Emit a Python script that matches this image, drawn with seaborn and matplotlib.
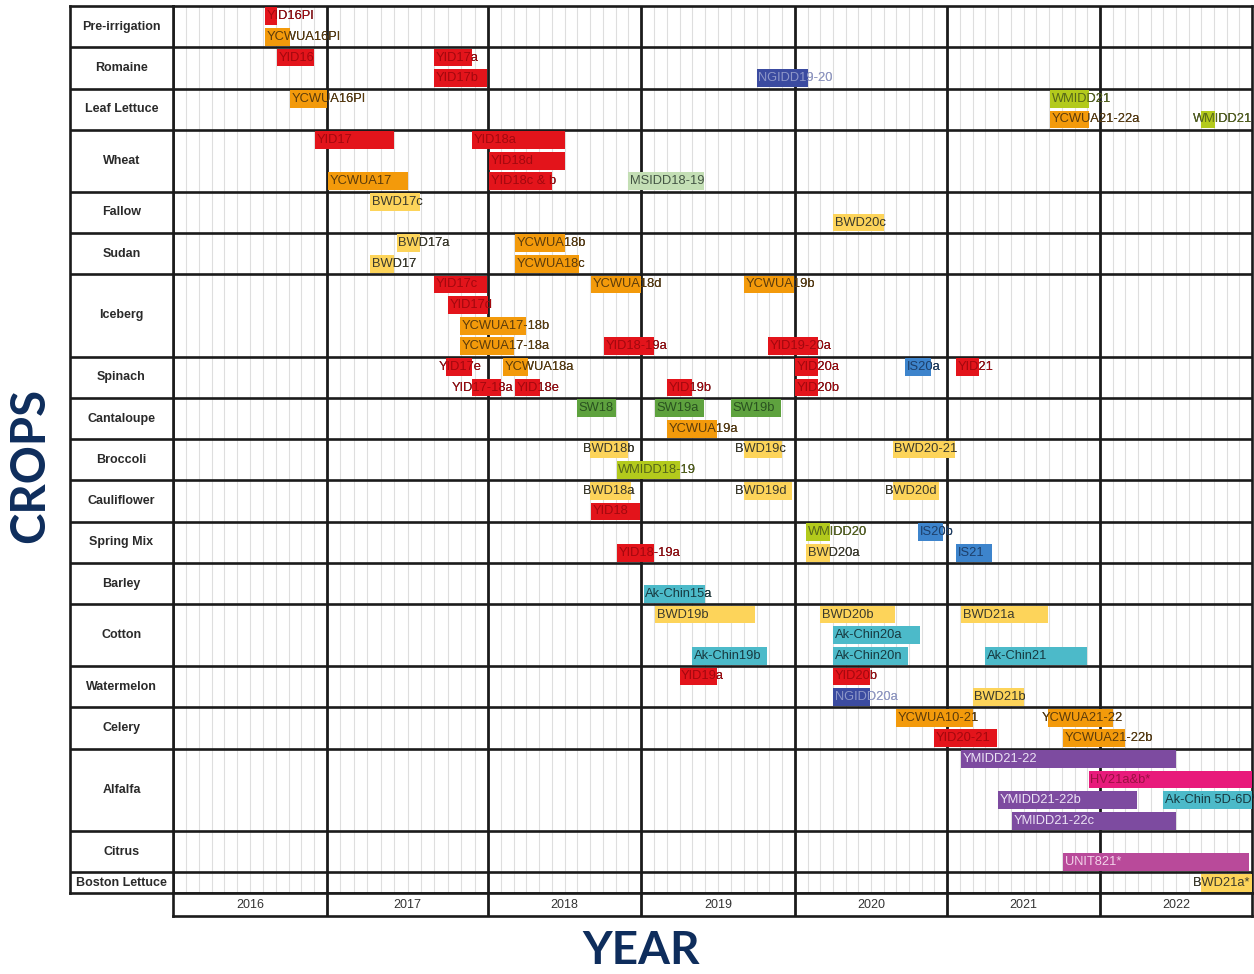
"""Crop trial timeline (2016-2022) drawn as a lane-based Gantt chart."""

import numpy as np
import matplotlib.pyplot as plt
import seaborn as sns

sns.set_theme(style="white")
plt.rcParams["font.family"] = ["Liberation Sans", "DejaVu Sans"]

# ---- data -------------------------------------------------------------
crops = ["Pre-irrigation", "Romaine", "Leaf Lettuce", "Wheat", "Fallow", "Sudan", "Iceberg",
         "Spinach", "Cantaloupe", "Broccoli", "Cauliflower", "Spring Mix", "Barley", "Cotton",
         "Watermelon", "Celery", "Alfalfa", "Citrus", "Boston Lettuce"]
crop_lanes = [2, 2, 2, 3, 2, 2, 4, 2, 2, 2, 2, 2, 2, 3, 2, 2, 4, 2, 1]
years = [2016, 2017, 2018, 2019, 2020, 2021, 2022]

# months counted from Jan 2016
trial_names = [
    "YID16PI", "YCWUA16PI",
    "YID16", "YID17a", "YID17b", "NGIDD19-20",
    "YCWUA16PI", "WMIDD21", "YCWUA21-22a", "WMIDD21",
    "YID17", "YID18a", "YID18d", "YCWUA17", "YID18c & b", "MSIDD18-19",
    "BWD17c", "BWD20c",
    "BWD17a", "BWD17", "YCWUA18b", "YCWUA18c",
    "YID17c", "YID17d", "YCWUA17-18b", "YCWUA17-18a", "YCWUA18d", "YCWUA19b", "YID18-19a", "YID19-20a",
    "YID17e", "YCWUA18a", "YID17-18a", "YID18e", "YID19b", "YID20a", "YID20b", "IS20a", "YID21",
    "SW18", "SW19a", "SW19b", "YCWUA19a",
    "BWD18b", "WMIDD18-19", "BWD19c", "BWD20-21",
    "BWD18a", "YID18", "BWD19d", "BWD20d",
    "YID18-19a", "WMIDD20", "BWD20a", "IS20b", "IS21",
    "Ak-Chin15a",
    "BWD19b", "Ak-Chin19b", "BWD20b", "Ak-Chin20a", "Ak-Chin20n", "BWD21a", "Ak-Chin21",
    "YID19a", "YID20b", "NGIDD20a", "BWD21b",
    "YCWUA10-21", "YID20-21", "YCWUA21-22", "YCWUA21-22b",
    "YMIDD21-22", "HV21a&b*", "YMIDD21-22b", "Ak-Chin 5D-6D*", "YMIDD21-22c",
    "UNIT821*",
    "BWD21a*",
]
trial_crops = (
    ["Pre-irrigation"] * 2 + ["Romaine"] * 4 + ["Leaf Lettuce"] * 4 + ["Wheat"] * 6
    + ["Fallow"] * 2 + ["Sudan"] * 4 + ["Iceberg"] * 8 + ["Spinach"] * 9 + ["Cantaloupe"] * 4
    + ["Broccoli"] * 4 + ["Cauliflower"] * 4 + ["Spring Mix"] * 5 + ["Barley"] * 1
    + ["Cotton"] * 7 + ["Watermelon"] * 4 + ["Celery"] * 4 + ["Alfalfa"] * 5
    + ["Citrus"] * 1 + ["Boston Lettuce"] * 1
)
trial_lanes = [
    0, 1,
    0, 0, 1, 1,
    0, 0, 1, 1,
    0, 0, 1, 2, 2, 2,
    0, 1,
    0, 1, 0, 1,
    0, 1, 2, 3, 0, 0, 3, 3,
    0, 0, 1, 1, 1, 0, 1, 0, 0,
    0, 0, 0, 1,
    0, 1, 0, 0,
    0, 1, 0, 0,
    1, 0, 1, 0, 1,
    1,
    0, 2, 0, 1, 2, 0, 2,
    0, 0, 1, 1,
    0, 1, 0, 1,
    0, 1, 2, 2, 3,
    1,
    0,
]
trial_start = [
    7.2, 7.2,
    8.1, 20.0, 20.0, 45.0,
    9.1, 68.1, 68.1, 80.0,
    11.1, 22.8, 24.1, 12.1, 24.1, 35.0,
    15.2, 51.0,
    17.2, 15.2, 26.1, 26.1,
    20.0, 21.0, 21.9, 21.9, 32.1, 44.0, 33.1, 45.9,
    20.9, 25.2, 22.8, 26.1, 38.0, 48.0, 48.0, 56.7, 60.7,
    31.0, 37.1, 43.0, 38.0,
    32.0, 34.1, 44.0, 55.7,
    32.0, 32.1, 44.0, 55.7,
    34.1, 48.9, 48.9, 57.7, 60.7,
    36.2,
    37.1, 40.0, 50.0, 51.0, 51.0, 61.1, 63.0,
    39.0, 51.0, 51.0, 62.0,
    56.0, 59.0, 67.9, 69.1,
    61.1, 71.1, 64.0, 77.0, 65.1,
    69.1,
    80.0,
]
trial_end = [
    8.1, 9.1,
    11.0, 22.8, 23.9, 49.0,
    12.0, 71.1, 71.1, 81.1,
    17.0, 30.0, 30.0, 18.0, 29.0, 40.9,
    18.9, 55.0,
    18.9, 17.0, 30.0, 31.1,
    23.9, 24.0, 27.0, 26.0, 36.0, 47.9, 37.0, 49.8,
    22.8, 27.1, 25.0, 28.1, 40.0, 49.8, 49.8, 58.7, 62.5,
    34.0, 40.9, 46.9, 41.9,
    35.0, 39.0, 47.0, 60.6,
    35.2, 35.9, 47.8, 59.4,
    37.0, 50.8, 50.8, 59.7, 63.5,
    41.0,
    44.9, 45.8, 55.9, 57.9, 56.9, 67.9, 71.0,
    41.9, 53.9, 53.9, 66.0,
    62.0, 63.9, 73.0, 74.0,
    78.0, 84.0, 74.9, 84.0, 78.0,
    83.8,
    84.0,
]
trial_program = [
    "YID", "YCWUA",
    "YID", "YID", "YID", "NGIDD",
    "YCWUA", "WMIDD", "YCWUA", "WMIDD",
    "YID", "YID", "YID", "YCWUA", "YID", "MSIDD",
    "BWD", "BWD",
    "BWD", "BWD", "YCWUA", "YCWUA",
    "YID", "YID", "YCWUA", "YCWUA", "YCWUA", "YCWUA", "YID", "YID",
    "YID", "YCWUA", "YID", "YID", "YID", "YID", "YID", "IS", "YID",
    "SW", "SW", "SW", "YCWUA",
    "BWD", "WMIDD", "BWD", "BWD",
    "BWD", "YID", "BWD", "BWD",
    "YID", "WMIDD", "BWD", "IS", "IS",
    "AkChin",
    "BWD", "AkChin", "BWD", "AkChin", "AkChin", "BWD", "AkChin",
    "YID", "YID", "NGIDD", "BWD",
    "YCWUA", "YID", "YCWUA", "YCWUA",
    "YMIDD", "HV", "YMIDD", "AkChin", "YMIDD",
    "UNIT",
    "BWD",
]
# how many months the label begins before its bar
label_lead = [0.0] * len(trial_names)
for _name, _crop, _lead in [("WMIDD21", "Leaf Lettuce", 0.8), ("YID17e", "Spinach", 0.7),
                            ("YID17-18a", "Spinach", 1.6), ("BWD18b", "Broccoli", 0.7),
                            ("BWD19c", "Broccoli", 0.8), ("BWD18a", "Cauliflower", 0.7),
                            ("BWD19d", "Cauliflower", 0.8), ("BWD20d", "Cauliflower", 0.7),
                            ("YCWUA21-22", "Celery", 0.6), ("BWD21a*", "Boston Lettuce", 0.8)]:
    _idx = [i for i in range(len(trial_names))
            if trial_names[i] == _name and trial_crops[i] == _crop][-1]
    label_lead[_idx] = _lead

# ---- styling ----------------------------------------------------------
# bar colour, text colour on the bar, text colour beside the bar
program_style = {
    "YID": ("#e3141b", "#a3080e", "#222222"),
    "YCWUA": ("#f39a0b", "#5c3c0c", "#222222"),
    "BWD": ("#fdd45a", "#3b3a2c", "#222222"),
    "WMIDD": ("#b3ca1c", "#55651a", "#222222"),
    "MSIDD": ("#c4dfb5", "#445544", "#222222"),
    "SW": ("#5ea23e", "#2a5220", "#222222"),
    "NGIDD": ("#3b4ba0", "#8e97c9", "#a0a0a0"),
    "IS": ("#3d84cc", "#1d3f6a", "#222222"),
    "AkChin": ("#4cbac9", "#173a40", "#222222"),
    "YMIDD": ("#7d4ba0", "#ece2f5", "#222222"),
    "HV": ("#e81a7b", "#9a1042", "#222222"),
    "UNIT": ("#b94a9a", "#f3d3ea", "#222222"),
}
palette = sns.color_palette([program_style[p][0] for p in program_style])
bar_colors = dict(zip(program_style.keys(), palette))

year_px = [154, 161, 153, 154, 152, 153, 152]   # uneven year columns of the original
month_edges = np.arange(0, 12 * len(years) + 1, 12)
px_edges = np.concatenate([[0], np.cumsum(year_px)])


def fwd(m):
    m = np.asarray(m, dtype=float)
    out = np.interp(m, month_edges, px_edges)
    out = np.where(m < 0, m * year_px[0] / 12, out)
    return np.where(m > month_edges[-1], px_edges[-1] + (m - month_edges[-1]) * year_px[-1] / 12, out)


def inv(p):
    p = np.asarray(p, dtype=float)
    out = np.interp(p, px_edges, month_edges)
    out = np.where(p < 0, p * 12 / year_px[0], out)
    return np.where(p > px_edges[-1], month_edges[-1] + (p - px_edges[-1]) * 12 / year_px[-1], out)


W, H = 1254, 974
fig = plt.figure(figsize=(W / 100, H / 100), dpi=100)
ax = fig.add_axes([173 / W, 1 - 893 / H, 1079 / W, 887 / H])
ax_lab = fig.add_axes([70 / W, 1 - 893 / H, 103 / W, 887 / H])
ax_year = fig.add_axes([173 / W, 1 - 916 / H, 1079 / W, 23 / H])

n_lanes = sum(crop_lanes)
lane_offset = np.concatenate([[0], np.cumsum(crop_lanes)[:-1]])
row_edges = np.concatenate([[0], np.cumsum(crop_lanes)])
n_months = 12 * len(years)

LINE = "#1b1b1b"

for a in (ax, ax_year):
    a.set_xscale("function", functions=(fwd, inv))
    a.set_xlim(0, n_months)

ax.set_ylim(n_lanes, 0)
ax_lab.set_ylim(n_lanes, 0)
ax_lab.set_xlim(0, 1)

# grid
months = np.arange(1, n_months)
ax.vlines([m for m in months if m % 12], 0, n_lanes, color="#dedede", lw=0.8, zorder=1)
ax.vlines(month_edges[1:-1], 0, n_lanes, color=LINE, lw=2.0, zorder=1.5)
ax.hlines(row_edges[1:-1], 0, n_months, color=LINE, lw=1.9, zorder=1.5)
ax_lab.hlines(row_edges[1:-1], 0, 1, color=LINE, lw=1.9)

# bars
crop_idx = [crops.index(c) for c in trial_crops]
ys = [lane_offset[c] + l + 0.5 for c, l in zip(crop_idx, trial_lanes)]
widths = [e - s for s, e in zip(trial_start, trial_end)]
bars = ax.barh(ys, widths, left=trial_start, height=0.86,
               color=[bar_colors[p] for p in trial_program], zorder=3, linewidth=0)

for i, name in enumerate(trial_names):
    _, inside_c, outside_c = program_style[trial_program[i]]
    tx = trial_start[i] - label_lead[i] + 0.12
    ax.text(tx, ys[i], name, fontsize=9.3, color=outside_c, va="center", ha="left", zorder=2.5)
    t = ax.text(tx, ys[i], name, fontsize=9.3, color=inside_c, va="center", ha="left", zorder=4)
    t.set_clip_path(bars.patches[i])

# crop labels
for c, crop in enumerate(crops):
    ax_lab.text(0.5, lane_offset[c] + crop_lanes[c] / 2, crop, ha="center", va="center",
                fontsize=9, fontweight="bold", color="#2a2a2a")

# year row
ax_year.set_ylim(0, 1)
ax_year.vlines(month_edges[1:-1], 0, 1, color=LINE, lw=2.0)
for k, yr in enumerate(years):
    ax_year.text(12 * k + 6, 0.5, str(yr), ha="center", va="center", fontsize=9, color="#333333")

for a in (ax, ax_lab, ax_year):
    a.set_xticks([])
    a.set_yticks([])
    for s in a.spines.values():
        s.set_visible(True)
        s.set_color(LINE)
        s.set_linewidth(1.9)

fig.text(30 / W, 1 - 465 / H, "CROPS", rotation=90, ha="center", va="center",
         fontsize=34, fontweight="bold", color="#0e2d5c", family=["Lato", "DejaVu Sans"])
fig.text(641 / W, 1 - 951 / H, "YEAR", ha="center", va="center",
         fontsize=33, fontweight="bold", color="#0e2d5c", family=["Lato", "DejaVu Sans"])

fig.savefig("out.png", dpi=100)
plt.close(fig)
